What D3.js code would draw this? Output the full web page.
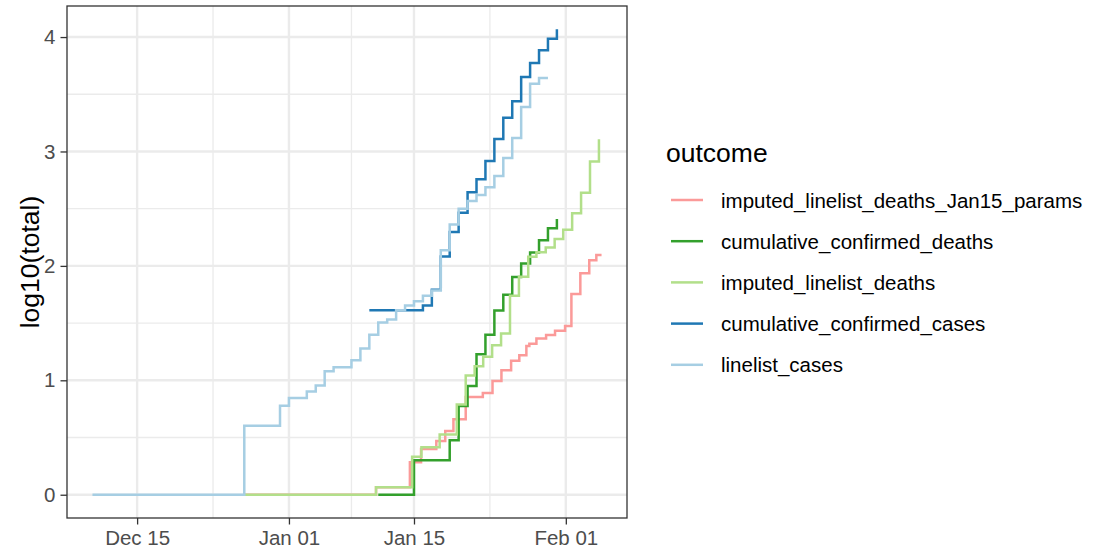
<!DOCTYPE html>
<html>
<script src="https://d3js.org/d3.v7.min.js"></script>
<body style="margin:0;background:#fff">
<svg id="canvas" width="1096" height="552"></svg>
<script>
    // legend / drawing order
    const outcomes = ["imputed_linelist_deaths_Jan15_params", "cumulative_confirmed_deaths",
        "imputed_linelist_deaths", "cumulative_confirmed_cases", "linelist_cases"];
    const colours = ["#fb9a99", "#33a02c", "#b2df8a", "#1f78b4", "#a6cee3"];

    // change points of each step line: [date, log10(total)]
    const imputedDeathsJan15 = [
        ["2019-12-27", 0], ["2020-01-10 18:00", 0.065], ["2020-01-14 13:00", 0.284],
        ["2020-01-15 19:00", 0.40], ["2020-01-17 12:00", 0.47], ["2020-01-18 12:00", 0.558],
        ["2020-01-19 10:00", 0.66], ["2020-01-20 19:00", 0.854], ["2020-01-22 17:00", 0.889],
        ["2020-01-23 19:00", 0.994], ["2020-01-24 19:00", 1.088], ["2020-01-25 21:00", 1.17],
        ["2020-01-26 19:00", 1.219], ["2020-01-27 14:00", 1.30], ["2020-01-27 22:00", 1.32],
        ["2020-01-28 17:00", 1.365], ["2020-01-29 19:00", 1.397], ["2020-01-30 19:00", 1.434],
        ["2020-01-31 22:00", 1.474], ["2020-02-01 15:00", 1.754], ["2020-02-02 15:00", 1.936],
        ["2020-02-03 15:00", 2.05], ["2020-02-04 10:00", 2.096], ["2020-02-05", 2.096]
    ];
    const confirmedDeaths = [
        ["2020-01-11", 0], ["2020-01-15", 0.301], ["2020-01-19", 0.477], ["2020-01-20", 0.776],
        ["2020-01-21", 0.95], ["2020-01-22", 1.228], ["2020-01-23", 1.398], ["2020-01-24", 1.61],
        ["2020-01-25", 1.748], ["2020-01-26", 1.903], ["2020-01-27", 2.021], ["2020-01-28", 2.117],
        ["2020-01-29", 2.225], ["2020-01-30", 2.33], ["2020-01-31", 2.41]
    ];
    const imputedDeaths = [
        ["2019-12-27", 0], ["2020-01-10 18:00", 0.065], ["2020-01-14 19:00", 0.333],
        ["2020-01-15 20:00", 0.415], ["2020-01-17 21:00", 0.526], ["2020-01-19 19:00", 0.789],
        ["2020-01-20 19:00", 1.041], ["2020-01-21 19:00", 1.123], ["2020-01-22 18:00", 1.205],
        ["2020-01-23 18:00", 1.307], ["2020-01-24 18:00", 1.409], ["2020-01-25 18:00", 1.74],
        ["2020-01-26 18:00", 1.906], ["2020-01-27 19:00", 2.08], ["2020-01-28 17:00", 2.12],
        ["2020-01-29 18:00", 2.16], ["2020-01-30 18:00", 2.235], ["2020-01-31 17:00", 2.315],
        ["2020-02-01 17:00", 2.46], ["2020-02-02 17:00", 2.64], ["2020-02-03 17:00", 2.913],
        ["2020-02-04 17:00", 3.107]
    ];
    const confirmedCases = [
        ["2020-01-10", 1.613], ["2020-01-16", 1.653], ["2020-01-17", 1.792], ["2020-01-18", 2.083],
        ["2020-01-19", 2.297], ["2020-01-20", 2.464], ["2020-01-21", 2.643], ["2020-01-22", 2.757],
        ["2020-01-23", 2.916], ["2020-01-24", 3.11], ["2020-01-25", 3.294], ["2020-01-26", 3.438],
        ["2020-01-27", 3.651], ["2020-01-28", 3.774], ["2020-01-29", 3.884], ["2020-01-30", 3.985],
        ["2020-01-31", 4.068]
    ];
    const linelistCases = [
        ["2019-12-10", 0], ["2019-12-27", 0.602], ["2019-12-31", 0.778], ["2020-01-01", 0.845],
        ["2020-01-03", 0.903], ["2020-01-04", 0.954], ["2020-01-05", 1.079], ["2020-01-06", 1.114],
        ["2020-01-08", 1.176], ["2020-01-09", 1.279], ["2020-01-10", 1.398], ["2020-01-11", 1.505],
        ["2020-01-12", 1.531], ["2020-01-13", 1.613], ["2020-01-14", 1.653], ["2020-01-15", 1.69],
        ["2020-01-16", 1.74], ["2020-01-17", 1.785], ["2020-01-18", 2.137], ["2020-01-19", 2.362],
        ["2020-01-20", 2.5], ["2020-01-21", 2.568], ["2020-01-22", 2.62], ["2020-01-23", 2.687],
        ["2020-01-24", 2.785], ["2020-01-25", 2.942], ["2020-01-26", 3.117], ["2020-01-27", 3.389],
        ["2020-01-28", 3.592], ["2020-01-29", 3.642], ["2020-01-30", 3.642]
    ];
    const seriesData = [imputedDeathsJan15, confirmedDeaths, imputedDeaths, confirmedCases, linelistCases];

    const xTickLabels = ["2019-12-15", "2020-01-01", "2020-01-15", "2020-02-01"];
    const yTickValues = [0, 1, 2, 3, 4];

    const parseDay = d3.utcParse("%Y-%m-%d");
    const parseTime = d3.utcParse("%Y-%m-%d %H:%M");
    const parse = s => s.length > 10 ? parseTime(s) : parseDay(s);

    const series = seriesData.map((pts, i) => ({
        name: outcomes[i], colour: colours[i],
        values: pts.map(p => ({date: parse(p[0]), v: p[1]}))
    }));

    const svg = d3.select("#canvas");
    const font = "'Liberation Sans', Arial, sans-serif";
    const panel = {left: 67, right: 627, top: 6, bottom: 518};

    // ggplot-style 5% expansion
    const all = series.flatMap(s => s.values);
    const xExt = d3.extent(all, d => d.date);
    const xPad = (xExt[1] - xExt[0]) * 0.05;
    const yExt = d3.extent(all, d => d.v);
    const yPad = (yExt[1] - yExt[0]) * 0.05;

    const x = d3.scaleUtc()
        .domain([new Date(+xExt[0] - xPad), new Date(+xExt[1] + xPad)])
        .range([panel.left, panel.right]);
    const y = d3.scaleLinear()
        .domain([yExt[0] - yPad, yExt[1] + yPad])
        .range([panel.bottom, panel.top]);

    svg.append("rect").attr("width", 1096).attr("height", 552).attr("fill", "#fff");

    const xTicks = xTickLabels.map(parseDay);
    const xMinor = d3.pairs(xTicks).map(p => new Date((+p[0] + +p[1]) / 2));
    const yMinor = d3.pairs(yTickValues).map(p => (p[0] + p[1]) / 2);

    const grid = svg.append("g");
    grid.selectAll(".xmin").data(xMinor).join("line")
        .attr("x1", d => x(d)).attr("x2", d => x(d))
        .attr("y1", panel.top).attr("y2", panel.bottom)
        .attr("stroke", "#ebebeb").attr("stroke-width", 1.3);
    grid.selectAll(".ymin").data(yMinor).join("line")
        .attr("y1", d => y(d)).attr("y2", d => y(d))
        .attr("x1", panel.left).attr("x2", panel.right)
        .attr("stroke", "#ebebeb").attr("stroke-width", 1.3);
    grid.selectAll(".xmaj").data(xTicks).join("line")
        .attr("x1", d => x(d)).attr("x2", d => x(d))
        .attr("y1", panel.top).attr("y2", panel.bottom)
        .attr("stroke", "#ebebeb").attr("stroke-width", 2.4);
    grid.selectAll(".ymaj").data(yTickValues).join("line")
        .attr("y1", d => y(d)).attr("y2", d => y(d))
        .attr("x1", panel.left).attr("x2", panel.right)
        .attr("stroke", "#ebebeb").attr("stroke-width", 2.4);

    const line = d3.line()
        .x(d => x(d.date)).y(d => y(d.v))
        .curve(d3.curveStepAfter);

    svg.append("g").selectAll("path").data(series).join("path")
        .attr("d", d => line(d.values))
        .attr("fill", "none")
        .attr("stroke", d => d.colour)
        .attr("stroke-width", 2.5);

    svg.append("rect")
        .attr("x", panel.left).attr("y", panel.top)
        .attr("width", panel.right - panel.left).attr("height", panel.bottom - panel.top)
        .attr("fill", "none").attr("stroke", "#333333").attr("stroke-width", 1.3);

    // axes
    const xAxis = svg.append("g")
        .attr("transform", `translate(0,${panel.bottom})`)
        .call(d3.axisBottom(x).tickValues(xTicks).tickFormat(d3.utcFormat("%b %d"))
            .tickSize(6.5).tickPadding(6));
    const yAxis = svg.append("g")
        .attr("transform", `translate(${panel.left},0)`)
        .call(d3.axisLeft(y).tickValues(yTickValues).tickFormat(d3.format("d"))
            .tickSize(6.5).tickPadding(5));

    [xAxis, yAxis].forEach(a => {
        a.select(".domain").remove();
        a.selectAll(".tick line").attr("stroke", "#333333").attr("stroke-width", 1.3);
        a.selectAll(".tick text").attr("fill", "#4d4d4d")
            .style("font-family", font).style("font-size", "20.5px");
    });

    svg.append("text")
        .attr("transform", `translate(30,${(panel.top + panel.bottom) / 2}) rotate(-90)`)
        .attr("text-anchor", "middle").attr("dominant-baseline", "central")
        .style("font-family", font).style("font-size", "26.5px")
        .text("log10(total)");

    // legend
    const legend = svg.append("g");
    legend.append("text")
        .attr("x", 666).attr("y", 162)
        .style("font-family", font).style("font-size", "26.5px")
        .text("outcome");
    const keys = legend.selectAll(".key").data(series).join("g")
        .attr("transform", (d, i) => `translate(0,${200 + i * 41.2})`);
    keys.append("line")
        .attr("x1", 671).attr("x2", 703)
        .attr("stroke", d => d.colour).attr("stroke-width", 2.5);
    keys.append("text")
        .attr("x", 721).attr("dominant-baseline", "central")
        .style("font-family", font).style("font-size", "20.5px")
        .text(d => d.name);
</script>
</body>
</html>
